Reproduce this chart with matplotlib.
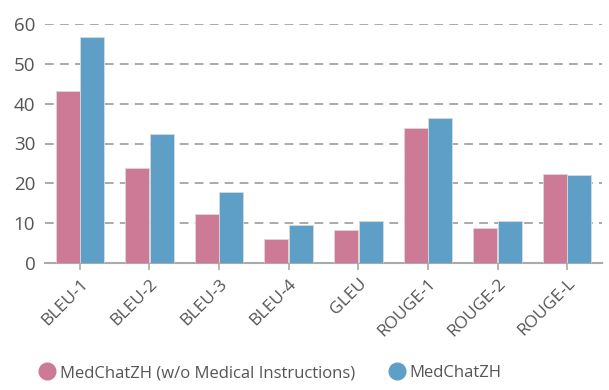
import matplotlib
matplotlib.use("Agg")
import matplotlib.pyplot as plt
import numpy as np
from matplotlib.lines import Line2D

categories = ["BLEU-1", "BLEU-2", "BLEU-3", "BLEU-4", "GLEU", "ROUGE-1", "ROUGE-2", "ROUGE-L"]
without_instr = [43.1, 23.8, 12.4, 5.9, 8.3, 33.8, 8.7, 22.3]
medchatzh = [56.7, 32.4, 17.9, 9.5, 10.5, 36.3, 10.5, 22.0]
series_names = ["MedChatZH (w/o Medical Instructions)", "MedChatZH"]
yticks = [0, 10, 20, 30, 40, 50, 60]

pink = "#cc7a96"
blue = "#5e9fc7"
txt = "#555555"

plt.rcParams['font.family'] = ['Open Sans', 'DejaVu Sans']

fig = plt.figure(figsize=(6.09, 3.90), dpi=100)
ax = fig.add_axes([45/609, 1-263/390, (602-45)/609, (263-24)/390])

x = np.arange(len(categories))
w = 0.345
ax.bar(x - w/2 - 0.004, without_instr, width=w, color=pink, edgecolor="#d9d9d9", linewidth=0.6, zorder=3)
ax.bar(x + w/2 + 0.004, medchatzh, width=w, color=blue, edgecolor="#d9d9d9", linewidth=0.6, zorder=3)

ax.set_xlim(-0.5, len(categories) - 0.5)
ax.set_ylim(0, 60)
ax.set_yticks(yticks)
ax.set_yticklabels([str(v) for v in yticks], fontsize=13.5, color=txt)
ax.yaxis.grid(True, linestyle=(0, (4.5, 3.2)), color="#aaaaaa", linewidth=1.4, zorder=0)
for s in ["top", "right", "left"]:
    ax.spines[s].set_visible(False)
ax.spines["bottom"].set_color("#aaaaaa")
ax.spines["bottom"].set_linewidth(1.5)
ax.tick_params(axis="y", length=0, pad=7)
ax.tick_params(axis="x", length=5, color="#aaaaaa", width=1.2, pad=4)
ax.set_xticks(x)
ax.set_xticklabels(categories, rotation=45, ha="right", rotation_mode="anchor",
                   fontsize=12.5, color=txt)

handles = [Line2D([0], [0], marker="o", linestyle="", markersize=12, color=pink),
           Line2D([0], [0], marker="o", linestyle="", markersize=12, color=blue)]
fig.legend(handles, series_names, loc="center left", bbox_to_anchor=(39/609, 1-373/390), ncol=2,
           frameon=False, fontsize=12, labelcolor=txt, handletextpad=0.25, columnspacing=2.0,
           handlelength=1.0, borderaxespad=0, borderpad=0)

fig.savefig("out.png", dpi=100)
